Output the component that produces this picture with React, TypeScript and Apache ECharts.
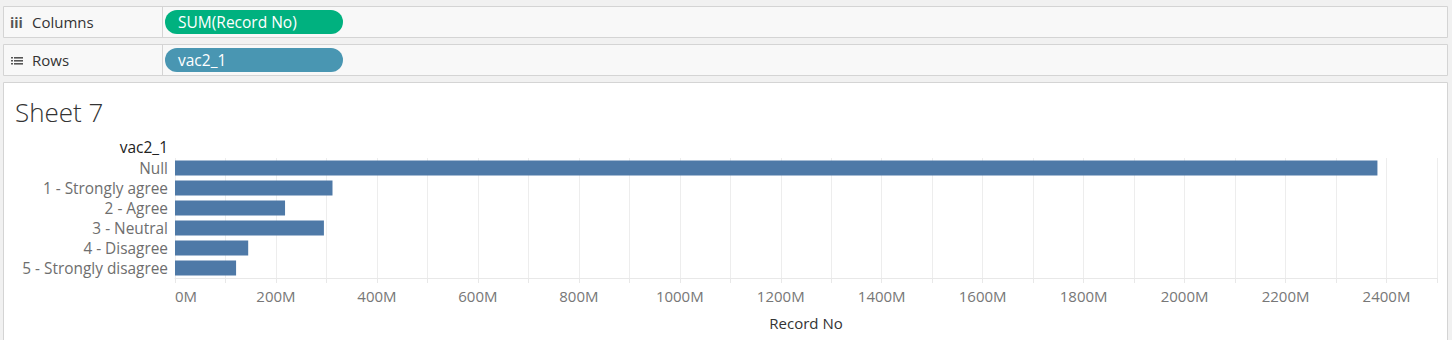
import React, { useEffect, useRef } from "react";
import * as echarts from "echarts";

const categories = [
  "Null",
  "1 - Strongly agree",
  "2 - Agree",
  "3 - Neutral",
  "4 - Disagree",
  "5 - Strongly disagree",
];
const recordNoMillions = [2382, 312, 218, 295, 145, 121];
const columnsPill = "SUM(Record No)";
const rowsPill = "vac2_1";
const sheetTitle = "Sheet 7";
const axisTitle = "Record No";

const FONT = "'Open Sans', 'Noto Sans', sans-serif";

export default function App() {
  const ref = useRef<HTMLDivElement>(null);
  useEffect(() => {
    document.body.style.margin = "0";
    const chart = echarts.init(ref.current!, null, { renderer: "svg" });
    const listIcon: any[] = [];
    [0, 1, 2].forEach((i) => {
      listIcon.push({ type: "rect", shape: { x: 11, y: 57 + i * 3, width: 2, height: 1.6 }, style: { fill: "#555" } });
      listIcon.push({ type: "rect", shape: { x: 14, y: 57 + i * 3, width: 9, height: 1.6 }, style: { fill: "#555" } });
    });
    chart.setOption({
      animation: false,
      backgroundColor: "#f1f1f1",
      textStyle: { fontFamily: FONT },
      graphic: [
        { type: "rect", shape: { x: 3.5, y: 6.5, width: 1444, height: 31 }, style: { fill: "#f8f8f8", stroke: "#d4d4d4", lineWidth: 1 } },
        { type: "line", shape: { x1: 162.5, y1: 7, x2: 162.5, y2: 37 }, style: { stroke: "#d4d4d4", lineWidth: 1 } },
        { type: "rect", shape: { x: 3.5, y: 44.5, width: 1444, height: 31 }, style: { fill: "#f8f8f8", stroke: "#d4d4d4", lineWidth: 1 } },
        { type: "line", shape: { x1: 162.5, y1: 45, x2: 162.5, y2: 75 }, style: { stroke: "#d4d4d4", lineWidth: 1 } },
        { type: "rect", shape: { x: 3.5, y: 82.5, width: 1444, height: 270 }, style: { fill: "#ffffff", stroke: "#d4d4d4", lineWidth: 1 } },
        { type: "text", x: 10, y: 22, style: { text: "iii", font: `bold 14px ${FONT}`, fill: "#555", verticalAlign: "middle" } },
        { type: "text", x: 32, y: 22, style: { text: "Columns", font: `15px ${FONT}`, fill: "#333", verticalAlign: "middle" } },
        ...listIcon,
        { type: "text", x: 32, y: 60, style: { text: "Rows", font: `15px ${FONT}`, fill: "#333", verticalAlign: "middle" } },
        { type: "rect", shape: { x: 165, y: 10, width: 178, height: 24, r: 12 }, style: { fill: "#00b17f" } },
        { type: "text", x: 178, y: 22, style: { text: columnsPill, font: `500 15.5px ${FONT}`, fill: "#ffffff", verticalAlign: "middle" } },
        { type: "rect", shape: { x: 165, y: 48, width: 178, height: 24, r: 12 }, style: { fill: "#4996b2" } },
        { type: "text", x: 178, y: 60, style: { text: rowsPill, font: `500 15.5px ${FONT}`, fill: "#ffffff", verticalAlign: "middle" } },
        { type: "text", x: 15, y: 112, style: { text: sheetTitle, font: `300 26px ${FONT}`, fill: "#333", verticalAlign: "middle" } },
        { type: "text", x: 168, y: 147, style: { text: rowsPill, font: `15.5px ${FONT}`, fill: "#222", align: "right", verticalAlign: "middle" } },
      ],
      grid: { left: 175, right: 15, top: 158, height: 120, containLabel: false },
      xAxis: {
        type: "value",
        min: 0,
        max: 2500,
        interval: 100,
        name: axisTitle,
        nameLocation: "middle",
        nameGap: 37,
        nameTextStyle: { color: "#333", fontSize: 15, fontFamily: FONT },
        axisLine: { show: true, lineStyle: { color: "#e8e8e8" } },
        axisTick: { show: true, length: 5, lineStyle: { color: "#e8e8e8" } },
        splitLine: { show: true, lineStyle: { color: "#ededed" } },
        axisLabel: {
          color: "#777",
          fontSize: 15,
          fontFamily: FONT,
          margin: 10,
          alignMinLabel: "left",
          formatter: (v: number) => (v % 200 === 0 ? `${v}M` : ""),
        },
      },
      yAxis: {
        type: "category",
        inverse: true,
        data: categories,
        axisLine: { show: false },
        axisTick: { show: false },
        splitLine: { show: false },
        axisLabel: { color: "#6e6e6e", fontSize: 15.4, fontFamily: FONT, margin: 7 },
      },
      series: [
        {
          type: "bar",
          data: recordNoMillions,
          barWidth: 15,
          itemStyle: { color: "#4e79a7" },
        },
      ],
    });
    return () => chart.dispose();
  }, []);
  return <div ref={ref} style={{ width: 1452, height: 340 }} />;
}
